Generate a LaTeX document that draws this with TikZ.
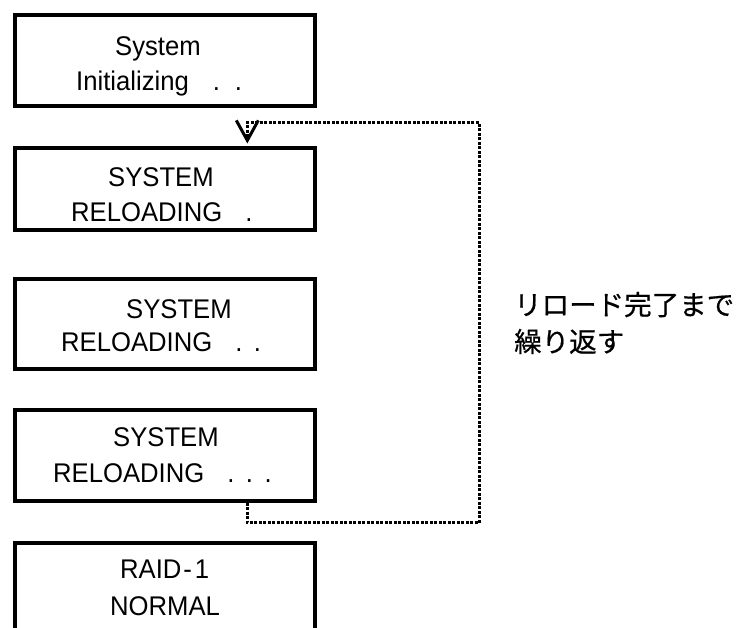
\documentclass[tikz,border=0pt]{standalone}
\usepackage{fontspec}
\setmainfont{Liberation Sans}[FakeStretch=0.95]
\newfontfamily\jpfont{Noto Sans CJK JP}[FakeBold=0.6]
\usetikzlibrary{arrows.meta}

\tikzset{
  panel/.style={draw, line width=4pt, minimum width=300.5pt, inner sep=0pt},
  txt/.style={anchor=base west, inner sep=0pt, font=\fontsize{27}{32}\selectfont},
  jptxt/.style={anchor=base west, inner sep=0pt, font=\jpfont\fontsize{27.5}{33}\selectfont},
  loopline/.style={line width=3pt, dash pattern=on 3pt off 1.5pt},
  looptip/.style={-{Straight Barb[length=20pt, width=22pt, line width=3pt]}}
}

\begin{document}
\begin{tikzpicture}[x=1pt, y=-1pt]
  \useasboundingbox (0,0) rectangle (744,627);
  \clip (0,0) rectangle (744,627);

  % LCD panels
  \node[panel, minimum height=91pt] (b1) at (164.75,60) {};
  \node[panel, minimum height=82pt] (b2) at (164.75,188.5) {};
  \node[panel, minimum height=90pt] (b3) at (164.75,323.5) {};
  \node[panel, minimum height=91pt] (b4) at (164.75,455) {};
  \node[panel, minimum height=140pt] (b5) at (164.75,612.5) {};

  % panel texts
  \node[txt] (t1a) at (115,55) {System};
  \node[txt] (t1b) at (76,90) {Initializing\hspace{24pt}.\hspace{15pt}.};
  \node[txt] (t2a) at (108,186.7) {SYSTEM};
  \node[txt] (t2b) at (71,221.7) {RELOADING\hspace{23pt}.};
  \node[txt] (t3a) at (126,318.3) {SYSTEM};
  \node[txt] (t3b) at (61,351.7) {RELOADING\hspace{23pt}.\hspace{11.5pt}.};
  \node[txt] (t4a) at (113,446.7) {SYSTEM};
  \node[txt] (t4b) at (53,482.7) {RELOADING\hspace{23pt}.\hspace{11.5pt}.\hspace{11.5pt}.};
  \node[txt] (t5a) at (120,578.3) {RAID\hspace{2pt}-\hspace{3pt}1};
  \node[txt] (t5b) at (110,615) {NORMAL};

  % repeat loop
  \coordinate (lx) at (247.3,0);
  \coordinate (c1) at (479.3,522.5);
  \coordinate (c2) at (479.3,122.7);
  \draw[loopline, looptip, shorten >=2pt]
    (b4.south -| lx) |- (c1) -- (c2) -| (b2.north -| lx);

  \node[jptxt] (note1) at (514,315) {リロード完了まで};
  \node[jptxt] (note2) at (514,352) {繰り返す};
\end{tikzpicture}
\end{document}
